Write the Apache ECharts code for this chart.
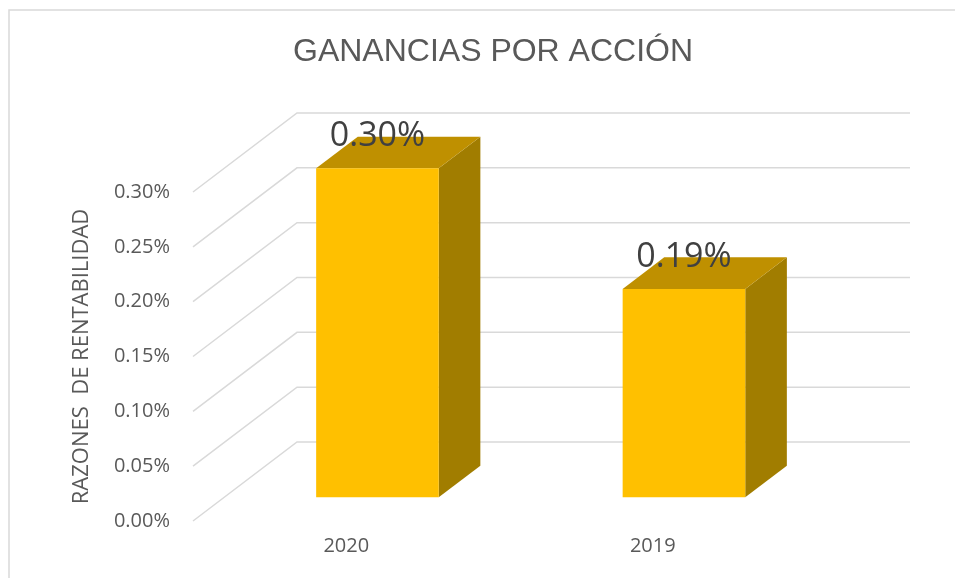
<!DOCTYPE html>
<html>
<head>
<meta charset="utf-8">
<script src="https://cdn.jsdelivr.net/npm/echarts@6/dist/echarts.min.js"></script>
<style>
  html, body { margin: 0; padding: 0; background: #fff; }
  #main { width: 955px; height: 578px; }
</style>
</head>
<body>
<div id="main"></div>
<script>
// datos del grafico
var categories = ['2020', '2019'];
var values = [0.30, 0.19];
var yTicks = [0, 0.05, 0.10, 0.15, 0.20, 0.25, 0.30];

// profundidad 3D (pared del fondo respecto al plano frontal)
var DX = 104;
var DY = 79;

var chart = echarts.init(document.getElementById('main'));

function fmt(v) {
    return v.toFixed(2) + '%';
}

var option = {
    animation: false,
    title: {
        text: 'GANANCIAS POR ACCIÓN',
        left: 288,
        top: 31,
        textStyle: {
            fontFamily: '"Liberation Sans", sans-serif',
            fontSize: 32,
            fontWeight: 'normal',
            color: '#595959'
        }
    },
    graphic: [{
        type: 'rect',
        shape: { x: 9, y: 10, width: 1000, height: 600 },
        style: { fill: 'none', stroke: '#D9D9D9', lineWidth: 1.5 },
        silent: true
    }],
    grid: [
        // pared del fondo
        { left: 297, right: 45, top: 113, bottom: 136 },
        // plano frontal
        { left: 193, right: 149, top: 192, bottom: 57 }
    ],
    xAxis: [
        { gridIndex: 0, type: 'category', data: categories, show: false },
        {
            gridIndex: 1, type: 'category', data: categories,
            axisLine: { show: false }, axisTick: { show: false },
            axisLabel: { margin: 15, fontSize: 20, color: '#595959', fontFamily: 'Open Sans' }
        }
    ],
    yAxis: [
        { gridIndex: 0, type: 'value', min: 0, max: 0.3, interval: 0.05, show: false },
        {
            gridIndex: 1, type: 'value', min: 0, max: 0.3, interval: 0.05,
            axisLine: { show: false }, axisTick: { show: false }, splitLine: { show: false },
            axisLabel: { margin: 23, fontSize: 20, color: '#595959', fontFamily: 'Open Sans', formatter: fmt },
            name: 'RAZONES  DE RENTABILIDAD',
            nameLocation: 'middle',
            nameGap: 100,
            nameTextStyle: { fontSize: 22, color: '#595959', fontFamily: 'Open Sans' }
        }
    ],
    series: [
        {
            // lineas de division: diagonal del piso lateral + pared del fondo
            type: 'custom',
            xAxisIndex: 0,
            yAxisIndex: 0,
            silent: true,
            z: 1,
            data: yTicks.map(function (v) { return [0, v]; }),
            renderItem: function (params, api) {
                var cs = params.coordSys;
                var p = api.coord([0, api.value(1)]);
                return {
                    type: 'polyline',
                    shape: { points: [[cs.x - DX, p[1] + DY], [cs.x, p[1]], [cs.x + cs.width, p[1]]] },
                    style: { fill: 'none', stroke: '#D9D9D9', lineWidth: 1.5 }
                };
            }
        },
        {
            type: 'custom',
            xAxisIndex: 0,
            yAxisIndex: 0,
            z: 3,
            data: values.map(function (v, i) { return [i, v]; }),
            renderItem: function (params, api) {
                var i = api.value(0);
                var v = api.value(1);
                var c = api.coord([i, v]);
                var b = api.coord([i, 0]);
                var hw = api.size([1, 0])[0] * 0.2;
                // cara frontal a 30% de profundidad, cara trasera a 70%
                var fx = -DX * 0.7, fy = DY * 0.7;
                var bx = -DX * 0.3, by = DY * 0.3;
                var fl = c[0] - hw + fx, fr = c[0] + hw + fx;
                var ft = c[1] + fy, fb = b[1] + fy;
                var bl = c[0] - hw + bx, br = c[0] + hw + bx;
                var bt = c[1] + by, bb = b[1] + by;
                return {
                    type: 'group',
                    children: [
                        {
                            type: 'polygon',
                            shape: { points: [[fr, ft], [br, bt], [br, bb], [fr, fb]] },
                            style: { fill: '#A17D00' }
                        },
                        {
                            type: 'polygon',
                            shape: { points: [[fl, ft], [fr, ft], [br, bt], [bl, bt]] },
                            style: { fill: '#BF9000' }
                        },
                        {
                            type: 'rect',
                            shape: { x: fl, y: ft, width: fr - fl, height: fb - ft },
                            style: { fill: '#FFC000' }
                        },
                        {
                            type: 'text',
                            x: (fl + fr) / 2,
                            y: ft - 32,
                            style: {
                                text: fmt(v),
                                fontSize: 34,
                                fontFamily: 'Open Sans',
                                fill: '#404040',
                                align: 'center',
                                verticalAlign: 'middle'
                            }
                        }
                    ]
                };
            }
        }
    ]
};

chart.setOption(option);
</script>
</body>
</html>
